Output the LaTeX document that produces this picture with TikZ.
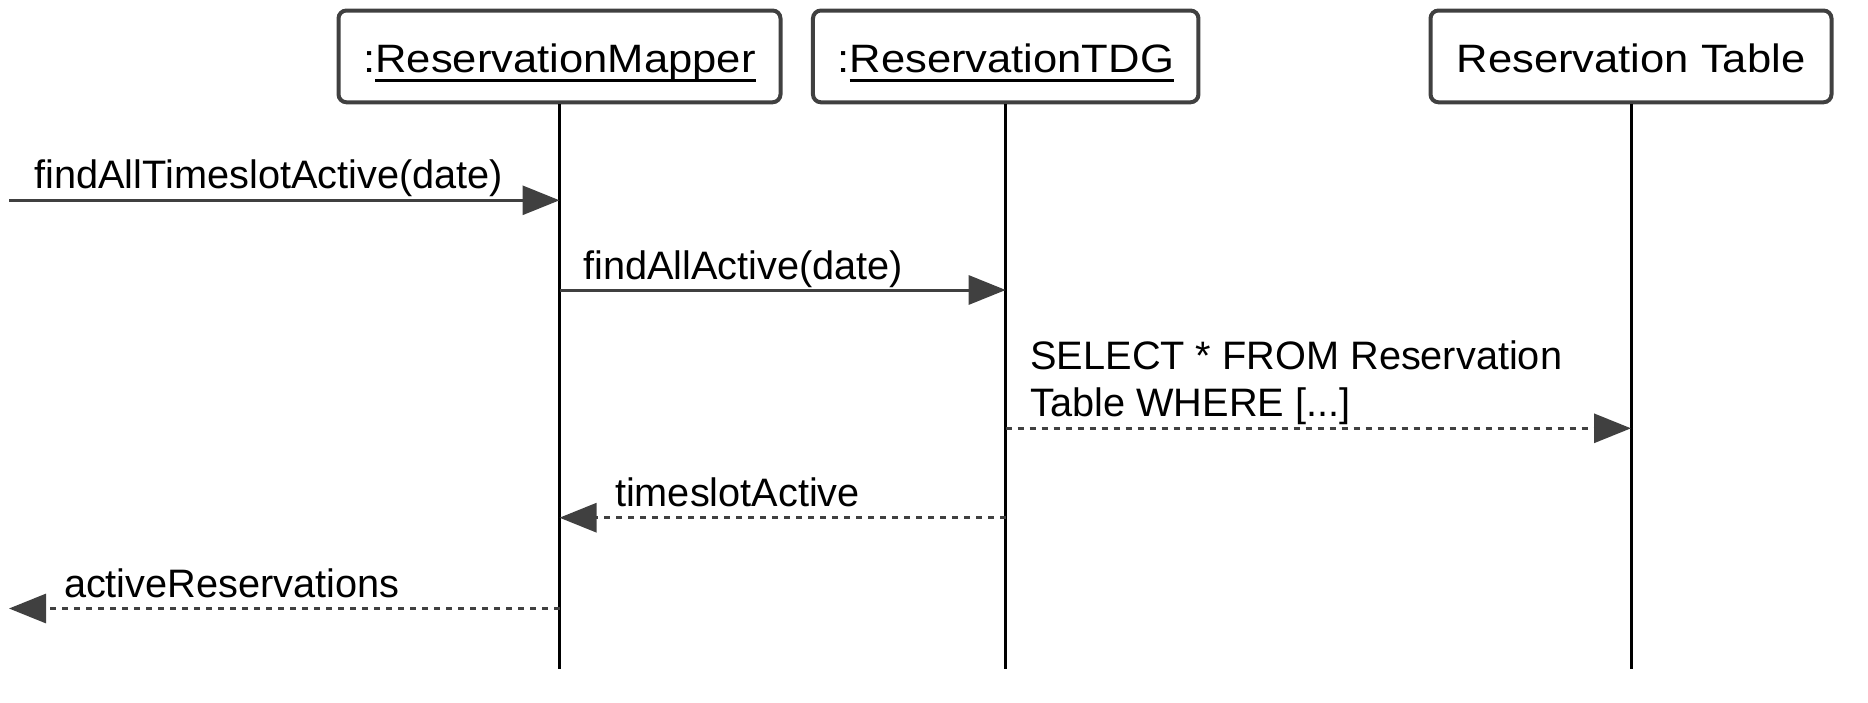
\documentclass[tikz,border=0pt]{standalone}
\usepackage{fontspec}
\setmainfont{Liberation Sans}
\newfontfamily\objfont[FakeStretch=1.1]{Liberation Sans}
\usetikzlibrary{arrows.meta}
\definecolor{linegray}{RGB}{64,64,64}
\newcommand{\objul}[1]{\setbox0\hbox{#1}\rlap{\rule[-4.9pt]{\wd0}{1.5pt}}\box0}
\tikzset{every picture/.style={line width=1.5pt}}
\tikzset{
  obj/.style={draw=linegray, line width=2pt, rounded corners=4pt, fill=white,
    inner sep=0pt, minimum height=45.9pt, text height=15.7pt, text depth=0pt,
    font=\objfont\fontsize{19.8}{23}\selectfont},
  lifeline/.style={draw=black, line width=1.5pt},
  msg/.style={draw=linegray, line width=1.5pt, -{Triangle[length=18.5pt,width=14.5pt]}},
  ret/.style={msg, dash pattern=on 3pt off 3pt},
  lbl/.style={anchor=base west, inner sep=0pt, align=left,
    font=\fontsize{19.85}{23.5}\selectfont}
}

\begin{document}
\begin{tikzpicture}[x=0.5pt,y=0.5pt,yscale=-1,xscale=1]
\useasboundingbox (0,0) rectangle (1868,702);

% Object Boxes
\node[obj, minimum width=221pt] (mapper) at (559.5,56.4) {:\objul{ReservationMapper}};
\node[obj, minimum width=192.75pt] (tdg) at (1005.7,56.4) {:\objul{ReservationTDG}};
\node[obj, minimum width=200.5pt] (table) at (1631,56.4) {Reservation Table};

% Lifelines
\coordinate (mapperEnd) at (559.5,669);
\coordinate (tdgEnd) at (1005.7,669);
\coordinate (tableEnd) at (1631,669);
\draw[lifeline] (mapper.south) -- (mapperEnd);
\draw[lifeline] (tdg.south) -- (tdgEnd);
\draw[lifeline] (table.south) -- (tableEnd);

% Messages
\coordinate (callIn) at (9,200.3);
\coordinate (callOut) at (9,608.5);
\draw[msg] (callIn) -- (callIn -| mapper);
\draw[msg] (mapper |- 0,290) -- (tdg |- 0,290);
\draw[ret] (tdg |- 0,428.3) -- (table |- 0,428.3);
\draw[ret] (tdg |- 0,517.7) -- (mapper |- 0,517.7);
\draw[ret] (mapper |- callOut) -- (callOut);

% Text Node
\node[lbl] (findTimeslot) at (33,188.3) {findAllTimeslotActive(date)};
% Text Node
\node[lbl] (findActive) at (581.7,279.3) {findAllActive(date)};
% Text Node
\node[lbl] (select) at (1029,416) {SELECT * FROM Reservation\\Table WHERE [...]};
% Text Node
\node[lbl] (timeslot) at (613.5,506) {timeslotActive};
% Text Node
\node[lbl] (activeRes) at (62.5,597) {activeReservations};

\end{tikzpicture}
\end{document}
